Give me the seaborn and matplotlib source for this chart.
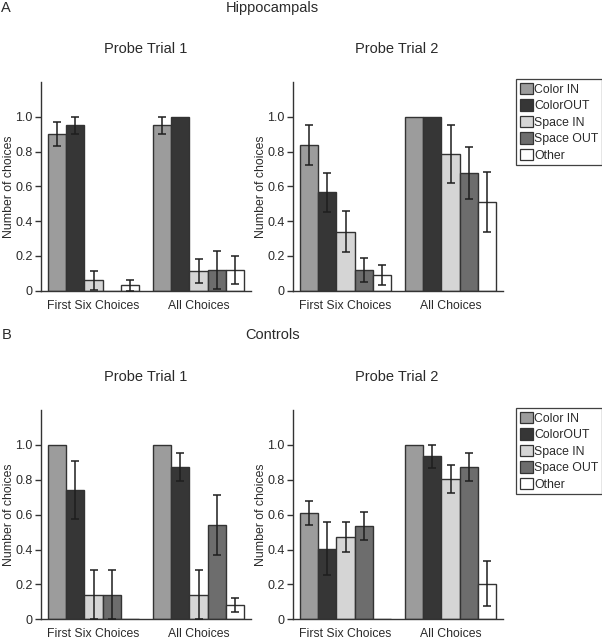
import matplotlib
matplotlib.use("Agg")
import matplotlib.pyplot as plt
from matplotlib.patches import Patch, Rectangle
import seaborn as sns
import pandas as pd

# ---------------- data ----------------
categories = ["First Six Choices", "All Choices"]
choice_types = ["Color IN", "ColorOUT", "Space IN", "Space OUT", "Other"]
colors = ["#9c9c9c", "#363636", "#d5d5d5", "#6d6d6d", "#ffffff"]

hip_t1_first = [0.90, 0.95, 0.06, 0.0, 0.03]
hip_t1_first_err = [0.07, 0.05, 0.055, 0.0, 0.03]
hip_t1_all = [0.95, 1.0, 0.115, 0.12, 0.12]
hip_t1_all_err = [0.05, 0.0, 0.07, 0.11, 0.08]

hip_t2_first = [0.84, 0.565, 0.34, 0.12, 0.09]
hip_t2_first_err = [0.115, 0.11, 0.12, 0.07, 0.06]
hip_t2_all = [1.0, 1.0, 0.785, 0.675, 0.51]
hip_t2_all_err = [0.0, 0.0, 0.165, 0.15, 0.17]

con_t1_first = [1.0, 0.74, 0.14, 0.14, 0.0]
con_t1_first_err = [0.0, 0.165, 0.14, 0.14, 0.0]
con_t1_all = [1.0, 0.875, 0.14, 0.54, 0.08]
con_t1_all_err = [0.0, 0.08, 0.14, 0.17, 0.04]

con_t2_first = [0.61, 0.405, 0.47, 0.535, 0.0]
con_t2_first_err = [0.07, 0.15, 0.085, 0.08, 0.0]
con_t2_all = [1.0, 0.935, 0.805, 0.875, 0.205]
con_t2_all_err = [0.0, 0.065, 0.08, 0.08, 0.13]

yticks = [0, 0.2, 0.4, 0.6, 0.8, 1.0]
ytick_labels = ["0", "0.2", "0.4", "0.6", "0.8", "1.0"]

# ---------------- style ----------------
sns.set_theme(style="ticks")
plt.rcParams["font.family"] = ["Liberation Sans", "DejaVu Sans"]
dark = "#2a2a2a"
plt.rcParams["text.color"] = dark
plt.rcParams["axes.labelcolor"] = dark
plt.rcParams["xtick.color"] = dark
plt.rcParams["ytick.color"] = dark

W, H = 602, 639
fig = plt.figure(figsize=(W / 100, H / 100), dpi=100)


def fx(px):
    return px / W


def fy(py):
    return 1 - py / H


def make_axes(left, top, right, bottom):
    return fig.add_axes([fx(left), fy(bottom), fx(right) - fx(left), fy(top) - fy(bottom)])


def panel(ax, first, first_err, allc, all_err):
    rows = []
    for cat, vals in zip(categories, [first, allc]):
        for t, v in zip(choice_types, vals):
            rows.append({"cat": cat, "type": t, "value": v})
    df = pd.DataFrame(rows)
    sns.barplot(data=df, x="cat", y="value", hue="type", order=categories,
                hue_order=choice_types, palette=dict(zip(choice_types, colors)),
                width=0.86, saturation=1, errorbar=None, legend=False,
                edgecolor="#333333", linewidth=1.0, ax=ax)
    errs = [first_err, all_err]
    bars = [p for p in ax.patches if isinstance(p, Rectangle)]
    groups = {}
    for b in bars:
        xc = b.get_x() + b.get_width() / 2
        groups.setdefault(int(round(xc)), []).append(b)
    for ci, blist in groups.items():
        blist.sort(key=lambda b: b.get_x())
        for hi, bar in enumerate(blist):
            if ci >= len(errs) or hi >= len(errs[ci]):
                continue
            e = errs[ci][hi]
            if e <= 0:
                continue
            x = bar.get_x() + bar.get_width() / 2
            y = bar.get_height()
            ax.errorbar(x, y, yerr=e, fmt="none", ecolor="#1e1e1e",
                        elinewidth=1.1, capsize=2.6, capthick=1.1, zorder=5)
    ax.set_xlim(-0.5, 1.5)
    ax.set_ylim(0, 1.2)
    ax.set_yticks(yticks)
    ax.set_yticklabels(ytick_labels)
    ax.set_xlabel("")
    ax.set_ylabel("Number of choices", fontsize=8.8)
    ax.yaxis.set_label_coords((15 - 41) / 210, 0.5)
    ax.tick_params(axis="y", length=4, width=1, pad=2, labelsize=9, color="#333333")
    ax.tick_params(axis="x", length=0, pad=6.5, labelsize=8.8)
    for s in ["top", "right"]:
        ax.spines[s].set_visible(False)
    for s in ["left", "bottom"]:
        ax.spines[s].set_color("#333333")
        ax.spines[s].set_linewidth(1.0)


top_y, bot_y = 82, 290.7
top_y2, bot_y2 = 410, 619.3
lx0, lx1 = 41, 251
rx0, rx1 = 293, 503

ax1 = make_axes(lx0, top_y, lx1, bot_y)
panel(ax1, hip_t1_first, hip_t1_first_err, hip_t1_all, hip_t1_all_err)
ax2 = make_axes(rx0, top_y, rx1, bot_y)
panel(ax2, hip_t2_first, hip_t2_first_err, hip_t2_all, hip_t2_all_err)
ax3 = make_axes(lx0, top_y2, lx1, bot_y2)
panel(ax3, con_t1_first, con_t1_first_err, con_t1_all, con_t1_all_err)
ax4 = make_axes(rx0, top_y2, rx1, bot_y2)
panel(ax4, con_t2_first, con_t2_first_err, con_t2_all, con_t2_all_err)

# titles
fig.text(fx(1), fy(7.5), "A", ha="left", va="center", fontsize=10.5)
fig.text(fx(272.5), fy(8), "Hippocampals", ha="center", va="center", fontsize=10.5)
fig.text(fx(2), fy(335), "B", ha="left", va="center", fontsize=10.5)
fig.text(fx(272.5), fy(335), "Controls", ha="center", va="center", fontsize=10.5)
for cx, cy, t in [(145.5, 49, "Probe Trial 1"), (397, 49, "Probe Trial 2"),
                  (145.5, 377, "Probe Trial 1"), (397, 377, "Probe Trial 2")]:
    fig.text(fx(cx), fy(cy), t, ha="center", va="center", fontsize=10.5)

# legends
handles = [Patch(facecolor=c, edgecolor="#333333", linewidth=0.9) for c in colors]
for ly in [79, 408]:
    leg = fig.legend(handles, choice_types, loc="upper left",
                     bbox_to_anchor=(fx(516), fy(ly)), fontsize=8.8,
                     frameon=True, fancybox=False, borderaxespad=0,
                     handlelength=1.05, handleheight=1.05, handletextpad=0.15,
                     labelspacing=0.3, borderpad=0.3)
    leg.get_frame().set_edgecolor("#111111")
    leg.get_frame().set_linewidth(0.9)

fig.savefig("out.png", dpi=100)
